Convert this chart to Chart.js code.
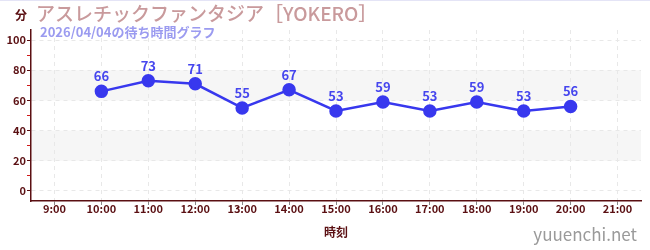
<!DOCTYPE html>
<html><head><meta charset="utf-8">
<script src="https://cdn.jsdelivr.net/npm/chart.js@4"></script>
<style>
html,body{margin:0;padding:0;background:#fff;}
#wrap{position:relative;width:650px;height:250px;border-top:1px solid #e4e4f6;box-sizing:border-box;}
canvas{display:block;}
</style></head>
<body><div id="wrap"><canvas id="c" width="650" height="249"></canvas></div>
<script>
const titleText = "アスレチックファンタジア［YOKERO］";
const subtitleText = "2026/04/04の待ち時間グラフ";
const yUnit = "分";
const xTitle = "時刻";
const watermark = "yuuenchi.net";
const hours = [10, 11, 12, 13, 14, 15, 16, 17, 18, 19, 20];
const waits = [66, 73, 71, 55, 67, 53, 59, 53, 59, 53, 56];
const xTickHours = [9, 10, 11, 12, 13, 14, 15, 16, 17, 18, 19, 20, 21];
const yTicks = [0, 10, 20, 30, 40, 50, 60, 70, 80, 90, 100];
const bands = [[20, 40], [60, 80]];

const FONT = "'Noto Sans CJK JP', 'Noto Sans', sans-serif";
const MAROON = "#5a0f12";

const bandPlugin = {
  id: 'bands',
  beforeDraw(chart) {
    const {ctx, chartArea: a, scales: {y}} = chart;
    ctx.save();
    ctx.fillStyle = '#f6f6f6';
    bands.forEach(([lo, hi]) => {
      const t = y.getPixelForValue(hi), b = y.getPixelForValue(lo);
      ctx.fillRect(a.left, t, a.right - a.left, b - t);
    });
    ctx.restore();
  }
};

const textPlugin = {
  id: 'texts',
  afterDraw(chart) {
    const {ctx, chartArea: a} = chart;
    ctx.save();
    ctx.textBaseline = 'middle';
    ctx.fillStyle = MAROON;
    ctx.font = "bold 12px " + FONT;
    ctx.textAlign = 'left';
    ctx.fillText(yUnit, 15, 14);
    ctx.fillStyle = '#c99a9c';
    ctx.font = "500 19px " + FONT;
    ctx.fillText(titleText, 36, 13);
    ctx.fillStyle = '#9b9bf0';
    ctx.font = "bold 13px " + FONT;
    ctx.fillText(subtitleText, 40, 31);
    ctx.fillStyle = MAROON;
    ctx.font = "bold 12px " + FONT;
    ctx.textAlign = 'center';
    ctx.fillText(xTitle, (a.left + a.right) / 2, 231);
    ctx.fillStyle = '#9a9a9a';
    ctx.font = "17px " + FONT;
    ctx.textAlign = 'right';
    ctx.fillText(watermark, 637, 234);
    // value labels
    const meta = chart.getDatasetMeta(0);
    ctx.fillStyle = '#4646ee';
    ctx.font = "bold 13px " + FONT;
    ctx.textAlign = 'center';
    ctx.textBaseline = 'middle';
    meta.data.forEach((p, i) => {
      ctx.fillText(String(waits[i]), p.x, p.y - 15);
    });
    ctx.restore();
  }
};

new Chart(document.getElementById('c'), {
  type: 'line',
  data: {
    datasets: [{
      data: hours.map((h, i) => ({x: h, y: waits[i]})),
      borderColor: '#3838ee',
      backgroundColor: '#3838ee',
      borderWidth: 2.5,
      pointRadius: 5.5,
      pointHoverRadius: 5.5,
      tension: 0,
      clip: false
    }]
  },
  options: {
    responsive: false,
    animation: false,
    events: [],
    layout: {padding: {left: 0, right: 9, top: 29, bottom: 0}},
    plugins: {legend: {display: false}, tooltip: {enabled: false}},
    scales: {
      x: {
        type: 'linear',
        min: 8.5,
        max: 21.5,
        afterBuildTicks(s) { s.ticks = xTickHours.map(v => ({value: v})); },
        afterFit(s) { s.height = 49; },
        border: {color: MAROON, width: 1.5, dash: [4, 4]},
        grid: {color: '#e8e8e8', tickColor: '#888', tickLength: 4, drawOnChartArea: true},
        ticks: {
          color: MAROON,
          font: {family: FONT, size: 11, weight: 'bold'},
          padding: -3,
          maxRotation: 0,
          callback: v => v + ':00'
        }
      },
      y: {
        min: -6.67,
        max: 106.67,
        afterBuildTicks(s) { s.ticks = yTicks.map(v => ({value: v})); },
        afterFit(s) { s.width = 31; },
        border: {color: MAROON, width: 1.5, dash: [4, 4]},
        grid: {
          color: c => (c.tick && c.tick.value % 20 === 0) ? '#e8e8e8' : 'rgba(0,0,0,0)',
          tickColor: c => (c.tick && c.tick.value % 20 === 0) ? MAROON : '#d01818',
          tickLength: 4
        },
        ticks: {
          color: MAROON,
          font: {family: FONT, size: 11, weight: 'bold'},
          padding: 1,
          callback: v => (v % 20 === 0 ? String(v) : '')
        }
      }
    }
  },
  plugins: [bandPlugin, textPlugin]
});
</script></body></html>
